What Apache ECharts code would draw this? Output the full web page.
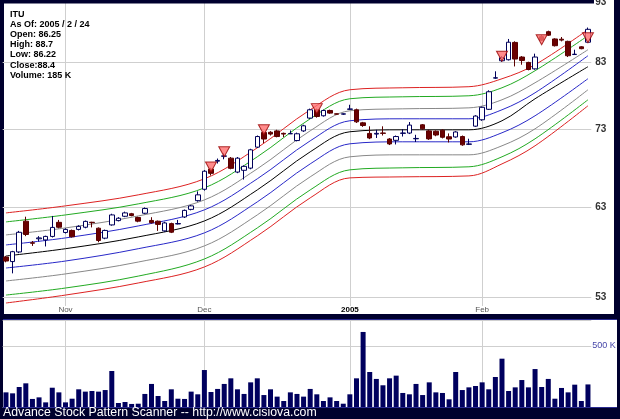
<!DOCTYPE html>
<html><head><meta charset="utf-8">
<script src="https://cdn.jsdelivr.net/npm/echarts@6/dist/echarts.min.js"></script>
<style>html,body{margin:0;padding:0;background:#00002e;}#c{width:620px;height:419px;}</style>
</head><body><div id="c"></div>
<script>
const dates = [
'2004-10-19','2004-10-20','2004-10-21','2004-10-22','2004-10-25','2004-10-26','2004-10-27','2004-10-28','2004-10-29',
'2004-11-01','2004-11-02','2004-11-03','2004-11-04','2004-11-05','2004-11-08','2004-11-09','2004-11-10','2004-11-11','2004-11-12','2004-11-15','2004-11-16','2004-11-17','2004-11-18','2004-11-19','2004-11-22','2004-11-23','2004-11-24','2004-11-26','2004-11-29','2004-11-30',
'2004-12-01','2004-12-02','2004-12-03','2004-12-06','2004-12-07','2004-12-08','2004-12-09','2004-12-10','2004-12-13','2004-12-14','2004-12-15','2004-12-16','2004-12-17','2004-12-20','2004-12-21','2004-12-22','2004-12-23','2004-12-27','2004-12-28','2004-12-29','2004-12-30','2004-12-31',
'2005-01-03','2005-01-04','2005-01-05','2005-01-06','2005-01-07','2005-01-10','2005-01-11','2005-01-12','2005-01-13','2005-01-14','2005-01-18','2005-01-19','2005-01-20','2005-01-21','2005-01-24','2005-01-25','2005-01-26','2005-01-27','2005-01-28','2005-01-31',
'2005-02-01','2005-02-02','2005-02-03','2005-02-04','2005-02-07','2005-02-08','2005-02-09','2005-02-10','2005-02-11','2005-02-14','2005-02-15','2005-02-16','2005-02-17','2005-02-18','2005-02-22','2005-02-23','2005-02-24'];
const opens = [57.28,56.78,57.83,61.32,58.85,59.30,59.17,59.57,61.19,60.02,60.25,60.37,60.62,61.20,60.51,59.37,60.89,61.39,61.90,62.20,61.76,62.26,61.41,61.32,60.20,61.04,61.00,61.82,62.72,63.77,65.17,67.72,68.75,69.40,69.15,67.34,67.57,67.85,70.62,72.62,72.65,72.84,72.50,72.44,71.51,72.84,74.64,75.83,74.97,75.73,75.25,75.20,75.90,75.83,73.97,72.49,72.40,72.55,71.72,71.54,72.50,72.54,71.75,73.69,72.84,72.79,72.93,72.03,72.00,72.06,71.00,73.50,74.40,75.90,80.55,83.26,83.42,86.22,83.85,82.99,81.98,87.17,88.00,86.79,86.75,86.39,84.25,85.50,86.25];
const highs = [57.40,57.95,60.20,61.85,59.05,59.60,59.65,61.94,61.47,60.50,60.35,60.85,61.40,61.25,60.60,60.35,62.20,61.80,62.45,62.30,61.85,62.95,61.79,61.40,61.25,61.15,61.47,62.70,63.25,64.91,67.60,67.90,69.10,69.80,69.30,69.30,68.20,70.40,72.20,72.80,72.80,73.00,72.60,72.90,72.60,73.70,76.00,76.00,75.85,75.85,75.30,75.30,76.56,76.00,74.10,73.48,72.99,73.48,71.85,72.20,73.09,74.08,72.30,73.80,73.00,72.90,73.05,72.49,72.80,72.20,71.76,75.05,76.30,78.70,81.60,84.00,86.79,86.40,84.00,83.10,84.39,87.40,88.17,86.90,87.11,86.50,85.03,85.60,88.70];
const lows = [56.70,55.52,57.70,59.60,58.50,59.00,58.44,59.45,60.50,59.90,59.44,60.25,60.50,60.60,58.91,59.25,60.80,61.30,61.80,61.90,61.20,62.15,61.05,60.20,60.10,59.95,60.95,61.70,62.60,63.65,65.00,66.90,68.45,69.00,67.70,67.20,66.39,67.70,70.50,71.17,72.20,71.95,71.98,72.40,71.40,72.70,74.50,74.70,74.85,75.25,75.15,75.10,75.85,73.95,73.40,71.70,71.86,72.20,70.90,70.98,72.06,72.40,71.31,73.00,71.60,72.10,71.80,71.25,71.90,70.80,70.90,73.40,74.25,75.80,80.45,83.10,83.30,82.36,82.63,81.75,81.85,86.45,87.30,85.55,86.39,83.85,84.20,85.10,86.22];
const closes = [56.84,57.86,60.04,59.79,58.80,59.40,59.57,60.60,60.62,60.37,59.53,60.72,61.30,61.15,59.11,60.25,62.06,61.67,62.30,61.99,61.33,62.82,61.15,60.95,61.12,60.05,61.05,62.60,63.14,64.48,67.45,67.18,68.85,69.45,67.82,69.15,68.08,70.26,72.06,71.72,72.40,72.06,72.40,72.46,72.44,73.55,75.83,74.87,75.73,75.35,75.20,75.25,75.95,74.11,73.59,71.86,72.50,72.50,71.05,72.06,72.55,73.65,71.80,73.13,71.74,72.27,71.96,71.72,72.69,70.93,71.05,74.93,76.19,78.48,80.60,83.74,86.25,83.53,83.31,81.88,83.85,86.59,87.42,85.68,86.60,84.06,84.30,85.20,88.40];
const volumesK = [120,112,164,194,66,79,38,158,120,38,68,145,126,131,126,139,295,33,41,25,27,107,189,90,49,145,68,66,126,104,303,123,148,189,235,145,107,202,235,98,145,85,49,120,107,85,148,104,49,79,49,27,104,235,615,287,230,178,235,257,115,104,189,98,202,120,115,63,287,139,161,172,202,145,246,396,131,161,221,161,311,164,230,68,156,120,183,49,185];
const signalDays = [31,33,39,47,75,81,88];
const signalPrices = [68.0,70.0,73.0,76.0,83.98,86.67,87.0];
const bandDays = [0,9,20,30,38,46,52,60,70,75,80,88];
const redUp   = [62.30,63.14,64.48,66.48,70.53,75.83,78.78,79.08,79.24,80.45,82.63,88.34];
const greenUp = [61.24,62.06,63.38,65.34,69.33,74.54,77.44,77.73,77.88,79.08,81.69,87.33];
const greyUp  = [59.74,60.54,61.94,63.86,67.76,72.85,75.69,75.97,76.11,77.29,79.84,85.03];
const blueUp  = [58.61,59.40,60.77,62.66,66.48,71.47,74.26,74.54,74.54,75.83,78.33,84.06];
const center  = [57.39,58.19,59.51,61.35,65.09,69.99,72.72,72.99,72.99,74.26,77.44,82.32];
const blueDn  = [56.09,56.84,58.19,59.97,63.62,68.40,71.07,71.34,71.34,72.58,74.97,80.46];
const greyDn  = [54.72,55.46,56.73,58.50,62.06,66.73,69.33,69.59,69.59,70.80,73.13,78.78];
const greenDn = [53.27,53.99,55.23,57.06,60.54,65.09,67.63,67.89,68.02,69.33,71.75,77.29];
const redDn   = [52.47,53.27,54.51,56.20,59.63,64.11,66.60,66.73,66.85,68.40,70.80,76.41];
const priceTicks = [53,63,73,83,93];
const monthStarts = [9,30,52,72];
const monthLabels = ['Nov','Dec','2005','Feb'];
const volumeTickK = 500;
const infoLines = ['ITU','As Of: 2005 / 2 / 24','Open: 86.25','High: 88.7','Low: 86.22','Close:88.4','Volume: 185 K'];
const footer = 'Advance Stock Pattern Scanner -- http://www.cisiova.com';

const chart = echarts.init(document.getElementById('c'), null, {renderer:'canvas'});
const ohlc = dates.map((d,i)=>[opens[i],closes[i],lows[i],highs[i]]);
function band(arr){ return bandDays.map((d,i)=>[d,arr[i]]); }
function lineS(arr,color){ return {type:'line',xAxisIndex:0,yAxisIndex:0,data:band(arr),smooth:0.35,showSymbol:false,symbol:'none',lineStyle:{color:color,width:1},z:3,silent:true}; }
const GL = '#cfcfcf';
const option = {
  backgroundColor:'#00002e',
  animation:false,
  grid:[{left:2.67,top:2.7,width:588.6,height:303.3},{left:2.67,top:320,width:588.6,height:87}],
  xAxis:[
    {type:'category',gridIndex:0,data:dates,boundaryGap:true,axisLine:{show:false},axisTick:{show:false},splitLine:{show:false},
     axisLabel:{show:true,margin:0,fontSize:8,fontFamily:'Liberation Sans',color:'#555',interval:(i)=>monthStarts.indexOf(i)>=0,
       formatter:(v,i)=>{const k=monthStarts.indexOf(i);if(k<0)return '';const t=monthLabels[k];return /^\d+$/.test(t)?'{b|'+t+'}':t;},
       rich:{b:{fontWeight:'bold',color:'#000',fontSize:8,fontFamily:'Liberation Sans'}}}},
    {type:'category',gridIndex:1,data:dates,boundaryGap:true,axisLine:{show:false},axisTick:{show:false},axisLabel:{show:false},splitLine:{show:false}}
  ],
  yAxis:[
    {type:'log',gridIndex:0,min:52.17,max:93,axisLine:{show:false},axisTick:{show:false},axisLabel:{show:false},splitLine:{show:false}},
    {type:'value',gridIndex:1,min:0,max:713,interval:volumeTickK,position:'right',axisLine:{show:false},axisTick:{show:false},
     axisLabel:{margin:1,fontSize:9,fontFamily:'Liberation Sans',color:'#4646a8',formatter:(v)=>v===volumeTickK?volumeTickK+' K':''},
     splitLine:{show:true,lineStyle:{color:GL,width:1}}}
  ],
  graphic:[
    {type:'rect',shape:{x:4,y:0,width:610,height:314},style:{fill:'#ffffff'},z:-10,silent:true},
    {type:'rect',shape:{x:3,y:319,width:614,height:88},style:{fill:'#ffffff'},z:-10,silent:true},
    {type:'line',shape:{x1:3,y1:319.5,x2:617,y2:319.5},style:{stroke:'#2a2a90',lineWidth:1},z:50,silent:true},
    {type:'line',shape:{x1:3,y1:407.5,x2:617,y2:407.5},style:{stroke:'#2a2a90',lineWidth:1},z:50,silent:true},
    {type:'rect',shape:{x:0,y:0,width:594,height:3.5},style:{fill:'#00002e'},z:100,silent:true},
    {type:'text',left:10,top:9,z:60,style:{text:infoLines.join('\n'),fill:'#000',font:'bold 9px "Liberation Sans"',lineHeight:10.2}},
    {type:'text',left:3,top:407,z:60,style:{text:footer,fill:'#ffffff',font:'12.3px "Liberation Sans"'}}
  ],
  series:[
    {type:'line',xAxisIndex:0,yAxisIndex:0,data:[],silent:true,z:1,
     markLine:{silent:true,symbol:'none',animation:false,z:1,
       label:{show:true,position:'end',distance:4,fontSize:10,fontWeight:'bold',fontFamily:'Liberation Sans',color:'#333',formatter:(p)=>String(p.value)},
       lineStyle:{color:GL,type:'solid',width:1},
       data:priceTicks.map(v=>({yAxis:v})).concat(monthStarts.map(i=>({xAxis:dates[i],label:{show:false}})))}},
    {type:'line',xAxisIndex:1,yAxisIndex:1,data:[],silent:true,z:1,
     markLine:{silent:true,symbol:'none',animation:false,z:1,label:{show:false},lineStyle:{color:GL,type:'solid',width:1},
       data:monthStarts.map(i=>({xAxis:dates[i]}))}},
    lineS(redUp,'#dd2222'),lineS(greenUp,'#22aa22'),lineS(greyUp,'#888888'),lineS(blueUp,'#2828c8'),
    lineS(center,'#000000'),
    lineS(blueDn,'#2828c8'),lineS(greyDn,'#888888'),lineS(greenDn,'#22aa22'),lineS(redDn,'#dd2222'),
    {type:'candlestick',xAxisIndex:0,yAxisIndex:0,data:ohlc,barWidth:5,z:5,
     itemStyle:{color:'#ffffff',color0:'#6a0000',borderColor:'#00005a',borderColor0:'#5a0000',borderWidth:1}},
    {type:'scatter',xAxisIndex:0,yAxisIndex:0,data:signalDays.map((d,i)=>[d,signalPrices[i]]),symbol:'triangle',symbolRotate:180,symbolSize:[11,10],z:6,
     itemStyle:{color:'#ff6f6f',borderColor:'#990000',borderWidth:1}},
    {type:'bar',xAxisIndex:1,yAxisIndex:1,data:volumesK,barWidth:5,itemStyle:{color:'#00005e'},z:4}
  ]
};
chart.setOption(option);
</script></body></html>
